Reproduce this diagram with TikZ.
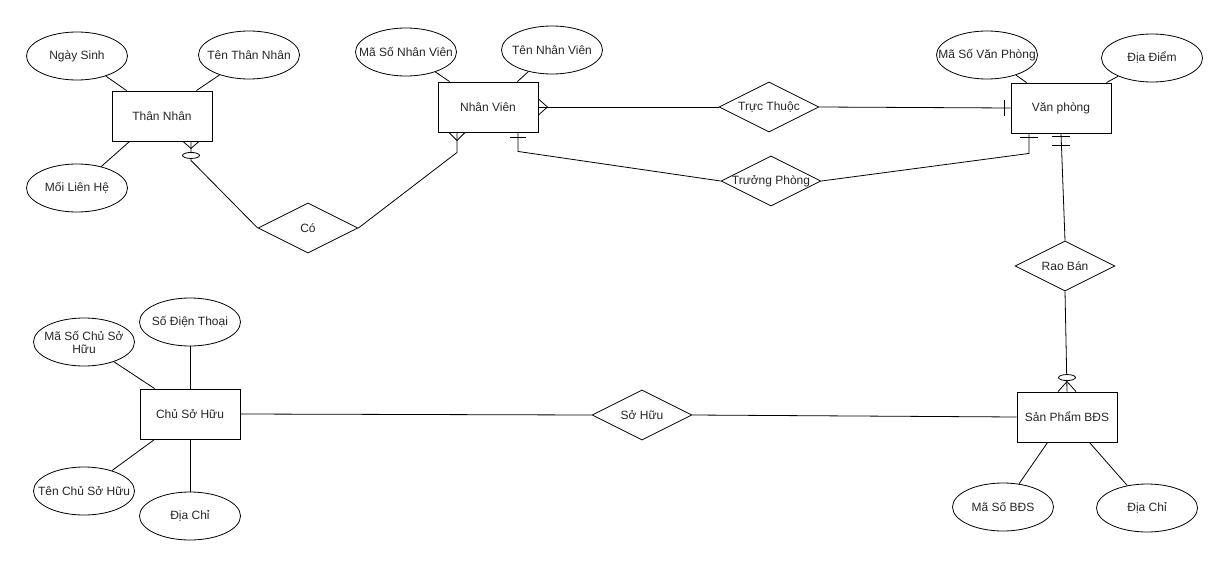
\documentclass[tikz,border=0pt]{standalone}
\usepackage{fontspec}
\setmainfont{Liberation Sans}
\usetikzlibrary{shapes.geometric,calc}
\begin{document}
\begin{tikzpicture}[x=1pt,y=-1pt,
  every node/.style={font=\fontsize{12}{14}\selectfont, text=black!85},
  ent/.style={draw, line width=0.9pt, minimum width=100pt, minimum height=50pt, inner sep=0pt},
  attr/.style={draw, ellipse, line width=0.8pt, minimum width=101pt, minimum height=48pt, inner sep=0pt, label={[align=center]center:#1}},
  rel/.style={draw, diamond, line width=0.8pt, minimum width=100pt, minimum height=50pt, inner sep=0pt, label={center:#1}},
  conn/.style={line width=0.8pt},
  erm/.style={line width=0.8pt},
  zcirc/.style={draw, ellipse, fill=white, line width=0.8pt, minimum width=17pt, minimum height=6pt, inner sep=0pt},
]
\useasboundingbox (0,0) rectangle (1228,567);

% entities
\node[ent] (tn) at (162,116) {Thân Nhân};
\node[ent] (nv) at (488,107) {Nhân Viên};
\node[ent] (vp) at (1061,108) {Văn phòng};
\node[ent] (csh) at (190,414) {Chủ Sở Hữu};
\node[ent] (sp) at (1067,417) {Sản Phẩm BĐS};

% attributes
\node[attr={Ngày Sinh}] (ns) at (77,56) {};
\node[attr={Tên Thân Nhân}] (ttn) at (249,55) {};
\node[attr={Mối Liên Hệ}] (mlh) at (77,188) {};
\node[attr={Mã Số Nhân Viên}] (msnv) at (406,52) {};
\node[attr={Tên Nhân Viên}] (tnv) at (552,50) {};
\node[attr={Mã Số Văn Phòng}] (msvp) at (987,55) {};
\node[attr={Địa Điểm}] (dd) at (1152,58) {};
\node[attr={Mã Số Chủ Sở\\[-1pt]Hữu}] (mscsh) at (84,342) {};
\node[attr={Số Điện Thoại}] (sdt) at (190,322) {};
\node[attr={Tên Chủ Sở Hữu}] (tcsh) at (84,491) {};
\node[attr={Địa Chỉ}] (dc1) at (190,516) {};
\node[attr={Mã Số BĐS}] (msbds) at (1003,507) {};
\node[attr={Địa Chỉ}] (dc2) at (1147,508) {};

% relationships
\node[rel={Có}] (co) at (308,228) {};
\node[rel={Trực Thuộc}] (tt) at (769,107) {};
\node[rel={Trưởng Phòng}] (tp) at (771,181) {};
\node[rel={Rao Bán}] (rb) at (1065,266) {};
\node[rel={Sở Hữu}] (sh) at (642,415) {};

% attribute links
\draw[conn] (ns) -- ($(tn.north west)+(15,0)$);
\draw[conn] (ttn) -- ($(tn.north east)+(-16,0)$);
\draw[conn] (mlh) -- ($(tn.south west)+(18,0)$);
\draw[conn] (msnv) -- ($(nv.north west)+(12,0)$);
\draw[conn] (tnv) -- ($(nv.north east)+(-21,0)$);
\draw[conn] (msvp) -- ($(vp.north west)+(16,0)$);
\draw[conn] (dd) -- ($(vp.north east)+(-5,0)$);
\draw[conn] (mscsh) -- ($(csh.north west)+(15,0)$);
\draw[conn] (sdt) -- (csh.north);
\draw[conn] (tcsh) -- ($(csh.south west)+(15,0)$);
\draw[conn] (dc1) -- (csh.south);
\draw[conn] (msbds) -- ($(sp.south west)+(31,0)$);
\draw[conn] (dc2) -- ($(sp.south east)+(-28,0)$);

% anchor coordinates for relationship connectors
\coordinate (tnB) at ($(tn.south)+(29,0)$);
\coordinate (nvB1) at ($(nv.south)+(-31,0)$);
\coordinate (nvB2) at ($(nv.south)+(30,0)$);
\coordinate (vpB1) at ($(vp.south)+(-32,0)$);
\coordinate (vpB2) at (vp.south);
\coordinate (spT) at (sp.north);

% relationship connectors
\draw[conn] (tnB) -- ($(tnB)+(0,19)$) -- (co.west);
\draw[conn] (nvB1) -- ($(nvB1)+(0,20)$) -- (co.east);
\draw[conn] (nv.east) -- (tt.west);
\draw[conn] (tt.east) -- (vp.west);
\draw[conn] (nvB2) -- ($(nvB2)+(0,19)$) -- (tp.west);
\draw[conn] (tp.east) -- ($(vpB1)+(0,20)$) -- (vpB1);
\draw[conn] (vpB2) -- (rb.north);
\draw[conn] (rb.south) -- (spT);
\draw[conn] (csh.east) -- (sh.west);
\draw[conn] (sh.east) -- (sp.west);

% crow's foot markers
% Than Nhan: zero or many
\draw[erm] ($(tnB)+(-8,0)$) -- ($(tnB)+(0,7)$) -- ($(tnB)+(8,0)$);
\node[zcirc] (tnZ) at ($(tnB)+(0,14)$) {};
% Nhan Vien right: many
\draw[erm] ($(nv.east)+(0,-8)$) -- ($(nv.east)+(9,0)$) -- ($(nv.east)+(0,8)$);
% Nhan Vien bottom: many
\draw[erm] ($(nvB1)+(-8,0)$) -- ($(nvB1)+(0,8)$) -- ($(nvB1)+(8,0)$);
% Nhan Vien bottom: one
\draw[erm] ($(nvB2)+(-8,5)$) -- ($(nvB2)+(8,5)$);
% Van phong left: one
\draw[erm] ($(vp.west)+(-6,-8)$) -- ($(vp.west)+(-6,8)$);
% Van phong bottom: one
\draw[erm] ($(vpB1)+(-9,4)$) -- ($(vpB1)+(9,4)$);
% Van phong bottom: mandatory one
\draw[erm] ($(vpB2)+(-9,3)$) -- ($(vpB2)+(9,3)$);
\draw[erm] ($(vpB2)+(-9,12)$) -- ($(vpB2)+(9,12)$);
% San Pham top: zero or many
\draw[erm] ($(spT)+(-9,0)$) -- ($(spT)+(0,-10)$) -- ($(spT)+(9,0)$);
\node[zcirc] (spZ) at ($(spT)+(0,-14)$) {};
\end{tikzpicture}
\end{document}
